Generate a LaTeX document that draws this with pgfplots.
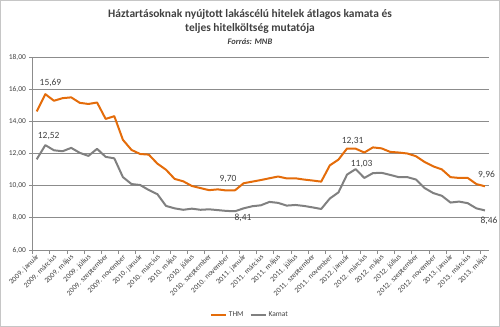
\documentclass[border=0pt]{standalone}
\usepackage{pgfplots}
\pgfplotsset{compat=1.18}
\usepackage{fontspec}
\setmainfont{Carlito}
\definecolor{thm}{RGB}{228,108,10}
\definecolor{kam}{RGB}{128,128,128}
\definecolor{txt}{RGB}{64,64,64}
\definecolor{gridc}{RGB}{140,140,140}
\pgfplotstableread{
i thm kamat
0 14.62 11.64
1 15.69 12.52
2 15.28 12.20
3 15.44 12.14
4 15.49 12.35
5 15.15 12.04
6 15.08 11.85
7 15.17 12.29
8 14.15 11.79
9 14.32 11.70
10 12.85 10.53
11 12.22 10.10
12 11.97 10.04
13 11.93 9.73
14 11.37 9.47
15 10.99 8.74
16 10.42 8.59
17 10.27 8.50
18 9.98 8.57
19 9.85 8.50
20 9.72 8.53
21 9.77 8.48
22 9.70 8.43
23 9.71 8.41
24 10.15 8.59
25 10.25 8.72
26 10.35 8.78
27 10.46 8.99
28 10.57 8.93
29 10.45 8.76
30 10.46 8.80
31 10.38 8.74
32 10.32 8.65
33 10.25 8.55
34 11.26 9.20
35 11.62 9.58
36 12.31 10.69
37 12.30 11.03
38 12.06 10.48
39 12.38 10.78
40 12.32 10.80
41 12.10 10.67
42 12.06 10.53
43 12.00 10.53
44 11.83 10.38
45 11.47 9.85
46 11.20 9.54
47 11.01 9.37
48 10.53 8.95
49 10.48 9.01
50 10.48 8.91
51 10.10 8.59
52 9.96 8.46
}\data
\begin{document}
\begin{tikzpicture}
\path[use as bounding box] (-32.4bp,-77bp) rectangle (467.6bp,250bp);
\draw[gray!45, line width=0.8bp] (-31.9bp,-76.5bp) rectangle (467.1bp,249.5bp);
\node[font=\fontsize{11.5}{13}\selectfont\bfseries, text=txt] at (217.6bp,236bp) {Háztartásoknak nyújtott lakáscélú hitelek átlagos kamata és};
\node[font=\fontsize{11.5}{13}\selectfont\bfseries, text=txt] at (217.6bp,222bp) {teljes hitelköltség mutatója};
\node[font=\fontsize{8.5}{10}\selectfont\bfseries\itshape, text=txt] at (217.6bp,208bp) {Forrás: MNB};
\begin{axis}[
  at={(0,0)}, anchor=south west,
  scale only axis, width=456.9bp, height=193bp,
  xmin=-0.5, xmax=52.5, ymin=6, ymax=18,
  clip=false,
  axis x line*=bottom, axis y line*=left,
  axis line style={gridc, line width=0.7bp},
  ytick={6,8,...,18},
  ymajorgrids, grid style={gridc, line width=0.7bp},
  tick align=outside,
  major tick length=3bp, minor tick length=3.5bp,
  major x tick style={draw=none},
  minor x tick style={gridc, line width=0.7bp},
  major y tick style={gridc, line width=0.7bp},
  xtick={0,2,...,52},
  minor xtick={-0.5,1.5,...,52.5},
  xticklabels={2009. január,2009. március,2009. május,2009. július,2009. szeptember,2009. november,2010. január,2010. március,2010. május,2010. július,2010. szeptember,2010. november,2011. január,2011. március,2011. május,2011. július,2011. szeptember,2011. november,2012. január,2012. március,2012. május,2012. július,2012. szeptember,2012. november,2013. január,2013. március,2013. május},
  x tick label style={rotate=45, anchor=east, font=\fontsize{7.5}{9}\selectfont, text=txt, inner sep=1bp, yshift=-3bp},
  y tick label style={font=\fontsize{7.5}{9}\selectfont, text=txt},
  yticklabel style={/pgf/number format/.cd, fixed, fixed zerofill, precision=2, use comma, assume math mode=true},
  legend style={at={(0.476,-0.337)}, anchor=center, draw=none, fill=none, font=\fontsize{7.5}{9}\selectfont, text=txt, legend columns=2, /tikz/every even column/.append style={column sep=4bp}},
  legend image code/.code={\draw[#1, line width=2bp] (0bp,0bp) -- (15bp,0bp);},
]
\addplot[thm, line width=2bp, line join=round] table[x=i, y=thm] {\data};
\addlegendentry{THM}
\addplot[kam, line width=2bp, line join=round] table[x=i, y=kamat] {\data};
\addlegendentry{Kamat}
\begin{scope}[font=\fontsize{9.5}{11}\selectfont, text=txt]
\node at (axis cs:1.6,16.39) {15,69};
\node at (axis cs:1.39,13.09) {12,52};
\node at (axis cs:22.19,10.42) {9,70};
\node at (axis cs:23.93,7.99) {8,41};
\node at (axis cs:36.64,12.78) {12,31};
\node at (axis cs:37.7,11.35) {11,03};
\node at (axis cs:52.18,10.66) {9,96};
\node at (axis cs:52.47,7.82) {8,46};
\end{scope}
\end{axis}
\end{tikzpicture}
\end{document}
